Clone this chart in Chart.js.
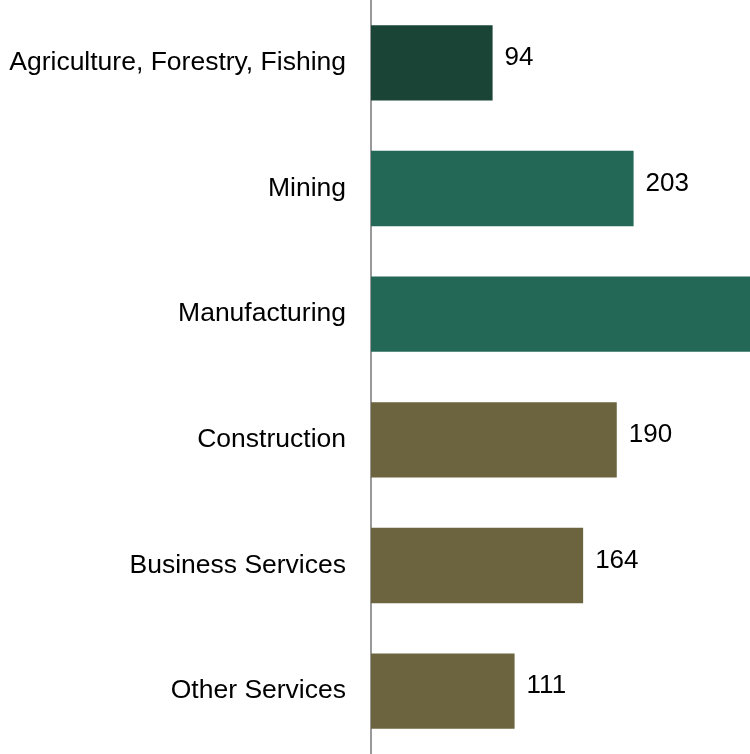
<!DOCTYPE html>
<html>
<head>
<meta charset="utf-8">
<script src="https://cdn.jsdelivr.net/npm/chart.js@4"></script>
<style>
  html, body { margin: 0; padding: 0; background: #ffffff; }
  #wrap { width: 750px; height: 754px; }
</style>
</head>
<body>
<div id="wrap"><canvas id="industryChart"></canvas></div>
<script>
const industries = ['Agriculture, Forestry, Fishing', 'Mining', 'Manufacturing', 'Construction', 'Business Services', 'Other Services'];
const values = [94, 203, 300, 190, 164, 111];
const barColors = ['#1a4436', '#236856', '#236856', '#6b643e', '#6b643e', '#6b643e'];
const axisMax = 293;

// draws the number just past the end of each bar
const valueLabels = {
    id: 'valueLabels',
    afterDatasetsDraw(chart) {
        const ctx = chart.ctx;
        const meta = chart.getDatasetMeta(0);
        ctx.save();
        ctx.font = '26px "Liberation Sans", Arial, sans-serif';
        ctx.fillStyle = '#000000';
        ctx.textAlign = 'left';
        ctx.textBaseline = 'middle';
        meta.data.forEach((bar, i) => {
            ctx.fillText(String(values[i]), bar.x + 12, bar.y - 5);
        });
        ctx.restore();
    }
};

new Chart(document.getElementById('industryChart'), {
    type: 'bar',
    data: {
        labels: industries,
        datasets: [{
            data: values,
            backgroundColor: barColors,
            borderWidth: 0,
            barPercentage: 0.6,
            categoryPercentage: 1.0
        }]
    },
    options: {
        indexAxis: 'y',
        responsive: true,
        maintainAspectRatio: false,
        animation: false,
        layout: { padding: 0 },
        plugins: {
            legend: { display: false },
            tooltip: { enabled: false }
        },
        scales: {
            x: {
                display: false,
                min: 0,
                max: axisMax
            },
            y: {
                afterFit(scale) {
                    scale.width = 371;
                    scale.paddingTop = 0;
                    scale.paddingBottom = 0;
                },
                grid: { display: false, drawTicks: false },
                border: { display: true, color: '#999999', width: 2 },
                ticks: {
                    padding: 25,
                    color: '#000000',
                    font: { family: '"Liberation Sans", Arial, sans-serif', size: 26.5 }
                }
            }
        }
    },
    plugins: [valueLabels]
});
</script>
</body>
</html>
